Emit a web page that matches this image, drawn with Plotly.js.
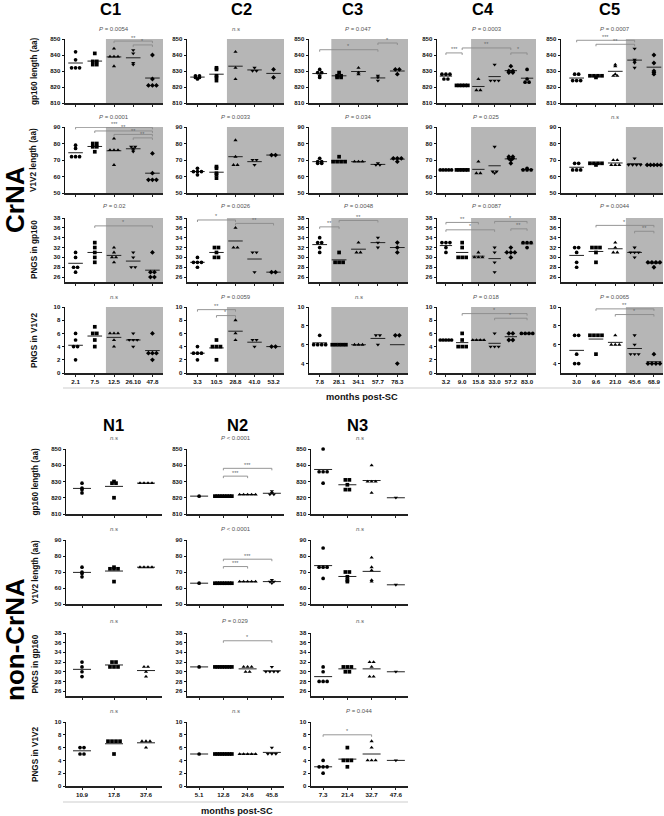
<!DOCTYPE html>
<html><head><meta charset="utf-8">
<script src="https://cdn.plot.ly/plotly-3.0.1.min.js"></script>
<style>body{margin:0;background:#fff}#chart{width:664px;height:816px}</style>
</head><body><div id="chart"></div>
<script>
// ---------- DATA ----------
const colNamesC = ['C1','C2','C3','C4','C5'];
const colNamesN = ['N1','N2','N3'];
const rowTitles = ['gp160 length (aa)','V1V2 length (aa)','PNGS in gp160','PNGS in V1V2'];

const ticksC1 = ['2.1','7.5','12.5','26.10','47.8'];
const ticksC2 = ['3.3','10.5','28.8','41.0','53.2'];
const ticksC3 = ['7.8','28.1','34.1','57.7','78.3'];
const ticksC4 = ['3.2','9.0','15.8','33.0','57.2','83.0'];
const ticksC5 = ['3.0','9.6','21.0','45.6','68.9'];
const ticksN1 = ['10.9','17.8','37.6'];
const ticksN2 = ['5.1','12.8','24.6','45.8'];
const ticksN3 = ['7.3','21.4','32.7','47.6'];

// gp160 length
const c1_gp = [[842,837,832,832,832],[841,836,836,834,834],[844,839,839,839,833],[843,841,835,834],[840,825,821,821,821]];
const c2_gp = [[827,827,826,826,825],[832,831,827,826,824],[842,832,825],[832,830,830],[831,826]];
const c3_gp = [[831,829,829,827,826],[829,827,827,826,826],[832,829,828],[827,826,824],[831,831,828]];
const c4_gp = [[828,828,828,825,825],[821,821,821,821,821],[825,818,818],[834,824,824,824],[833,830,830,829,829],[831,825,823,823]];
const c5_gp = [[828,828,824,824,824],[827,827,827,827,826],[834,833,828,827,827],[844,837,836,835,832],[840,835,830,829,828]];
// V1V2 length
const c1_v = [[79,77,72,72,72],[80,80,78,78,75],[83,76,76,76,67],[78,78,77,76,75],[74,62,58,58,58]];
const c2_v = [[65,63,63,63,61],[66,65,62,61,59],[82,72,67,67],[70,70,67],[73,73]];
const c3_v = [[71,69,69,68,68],[72,69,69,69,69],[69,69,69],[68,67,67],[71,71,71,69]];
const c4_v = [[64,64,64,64,64],[64,64,64,64,64],[69,62,62],[78,63,62,63],[72,72,71,71,70,68],[65,64,64,64]];
const c5_v = [[68,68,64,64,64],[68,68,68,68,67],[70,70,67,67,67],[71,67,67,67,67],[67,67,67,67,67]];
// PNGS in gp160
const c1_pg = [[31,30,28,28,27],[33,32,31,30,29],[32,31,30,30,29],[31,30,28,28],[31,27,27,26,26]];
const c2_pg = [[30,29,29,29,28],[32,32,31,30,30],[36,32,32],[31,31,27],[27,27]];
const c3_pg = [[34,33,33,32,31],[31,29,29,29],[33,31,31],[34,33,32],[33,32,31]];
const c4_pg = [[33,33,33,32,31],[33,32,30,30,30],[31,30,30,30],[32,31,29,27],[32,31,31,31,30],[33,33,33,32]];
const c5_pg = [[32,32,31,29,28],[32,32,32,31,29],[33,32,31,31],[32,31,31,31,30],[29,29,29,29,28]];
// PNGS in V1V2
const c1_pv = [[6,5,4,4,2],[7,6,6,5,4],[6,6,6,5,4],[6,5,5,5,4],[6,3,3,3,2]];
const c2_pv = [[4,3,3,3,2],[5,4,4,4,2],[8,6,5],[5,5,4],[4,4]];
const c3_pv = [[7,6,6,6,6],[6,6,6,6,6],[6,6,6],[7,7,6],[7,7,4]];
const c4_pv = [[5,5,5,5,5],[6,5,4,4,4],[5,5,5,5],[6,4,4,4],[6,6,5,5],[6,6,6,6]];
const c5_pv = [[7,7,5,4,4],[7,7,7,7,5],[7,6,6,6],[7,6,5,5,5],[5,4,4,4,4]];

// non-CrNA
const n1_gp = [[829,826,825,823],[830,829,829,820],[829,829,829,829]];
const n2_gp = [[821],[821,821,821,821,821,821,821,821],[822,822,822,822,822],[824,823,822,822]];
const n3_gp = [[850,836,836,836,829],[831,831,828,825,825],[840,830,830,830,823],[820]];
const n1_v = [[73,70,69,67],[73,72,72,72,64],[73,73,73,73]];
const n2_v = [[63],[63,63,63,63,63,63,63,63],[64,64,64,64,64],[65,64,64,63]];
const n3_v = [[85,73,73,73,66],[70,70,67,65,64],[79,73,71,65,64],[62]];
const n1_pg = [[32,31,30,29],[32,32,31,31,31],[31,31,30,29]];
const n2_pg = [[31],[31,31,31,31,31,31,31,31],[31,31,31,30,30],[31,30,30,30,30]];
const n3_pg = [[31,30,28,28,28],[31,31,31,30,30],[32,32,31,29,29],[30]];
const n1_pv = [[6,6,5,5],[7,7,7,7,5],[7,7,7,6]];
const n2_pv = [[5],[5,5,5,5,5,5,5,5],[5,5,5,5,5],[6,5,5,5]];
const n3_pv = [[4,3,3,3,2],[6,4,4,4,3],[7,6,4,4,4],[4]];

// p values (rows: gp160, V1V2, PNGS gp160, PNGS V1V2)
const pC1 = ['P = 0.0054','P = 0.0001','P = 0.02','n.s'];
const pC2 = ['n.s','P = 0.0033','P = 0.0026','P = 0.0059'];
const pC3 = ['P = 0.047','P = 0.034','P = 0.0048','n.s'];
const pC4 = ['P = 0.0003','P = 0.025','P = 0.0087','P = 0.018'];
const pC5 = ['P = 0.0007','n.s','P = 0.0044','P = 0.0065'];
const pN1 = ['n.s','n.s','n.s','n.s'];
const pN2 = ['P < 0.0001','P < 0.0001','P = 0.029','n.s'];
const pN3 = ['n.s','n.s','n.s','P = 0.044'];

// significance brackets: [fromGroup, toGroup, level, stars]
const brC1 = [[[2,4,848.7,'**'],[3,4,846.3,'*']],[[0,4,89.8,'***'],[1,4,87.6,'**'],[2,4,85.5,'**'],[3,4,83.4,'**']],[[1,4,36.4,'*']],[]];
const brC2 = [[],[],[[0,2,37.6,'*'],[2,4,36.9,'**']],[[0,2,9.6,'**'],[1,2,8.7,'*']]];
const brC3 = [[[0,3,843.3,'*'],[3,4,847.5,'*']],[],[[0,1,36.2,'**'],[1,3,37.5,'**']],[]];
const brC4 = [[[0,1,841.3,'***'],[1,4,844.4,'**'],[4,5,841.3,'*']],[],[[0,2,37.1,'**'],[0,3,35.6,'*'],[3,5,37.3,'*'],[4,5,35.8,'**']],[[1,5,9.0,'*'],[3,5,8.3,'*']]];
const brC5 = [[[0,3,849.2,'***'],[1,3,846.7,'**']],[],[[1,4,36.5,'*'],[3,4,35.3,'**']],[[1,4,9.8,'**'],[2,4,9.2,'*']]];
const brN1 = [[],[],[],[]];
const brN2 = [[[1,2,833.3,'***'],[1,3,838.1,'***']],[[1,2,73.4,'***'],[1,3,78,'***']],[[1,3,36.4,'*']],[]];
const brN3 = [[],[],[],[[0,2,8,'*']]];

// ---------- LAYOUT ----------
const W = 664, H = 816;
const FONT = 'Arial, "Liberation Sans", sans-serif';
const symbols = ['circle','square','triangle-up','triangle-down','diamond','circle'];
const traces = [], shapes = [], annotations = [];
const layout = {
  width: W, height: H, margin: {l:0,r:0,t:0,b:0}, showlegend: false,
  paper_bgcolor: '#fff', plot_bgcolor: 'rgba(0,0,0,0)', font: {family: FONT, color: '#111'},
  hovermode: false
};
let nAx = 0;

function ann(o){ annotations.push(Object.assign({showarrow:false, xanchor:'center', yanchor:'middle'}, o)); }

function addPanel(o){
  nAx++;
  const n = nAx;
  const xa = n===1?'x':'x'+n, ya = n===1?'y':'y'+n;
  const xk = n===1?'xaxis':'xaxis'+n, yk = n===1?'yaxis':'yaxis'+n;
  const [px0,px1] = o.col, [py0,py1] = o.row;
  const ppuX = (px1-px0)/(o.xr[1]-o.xr[0]);
  const ppuY = (py1-py0)/(o.yr[1]-o.yr[0]);
  const nc = o.data.length;
  layout[xk] = {domain:[px0/W, px1/W], range:o.xr, anchor:ya, showgrid:false, zeroline:false,
    showline:true, linecolor:'#222', linewidth:1.5, ticks:'outside', ticklen:2.5, tickwidth:1, tickcolor:'#222',
    tickvals: o.ticks.map((t,i)=>i), ticktext: o.ticks, showticklabels: o.showX,
    tickfont:{size:6.2, family:FONT, weight:'bold', color:'#111'}, fixedrange:true};
  layout[yk] = {domain:[1-py1/H, 1-py0/H], range:o.yr, anchor:xa, showgrid:false, zeroline:false,
    showline:true, linecolor:'#111', linewidth:1, ticks:'outside', ticklen:2.5, tickwidth:1, tickcolor:'#111',
    tickvals:o.yt, tickfont:{size:6, family:FONT, weight:'bold', color:'#111'}, fixedrange:true};
  if (o.shade != null) {
    shapes.push({type:'rect', xref:xa, yref:ya+' domain', x0:o.shade, x1:o.xr[1], y0:0, y1:1,
      fillcolor:'#b6b6b6', line:{width:0}, layer:'below'});
  }
  const xs=[], ys=[], sy=[], mx=[], my=[];
  const hw = Math.min(9, 0.38*ppuX)/ppuX;
  o.data.forEach((g,i)=>{
    const counts = {};
    g.forEach(v=>{counts[v]=(counts[v]||0)+1;});
    Object.keys(counts).forEach(k=>{
      const c = counts[k];
      const dpx = c>1 ? Math.min(4, 0.7*ppuX/(c-1)) : 0;
      for (let j=0;j<c;j++){
        xs.push(i + (j-(c-1)/2)*dpx/ppuX); ys.push(+k); sy.push(symbols[i]);
      }
    });
    const m = g.reduce((a,b)=>a+b,0)/g.length;
    mx.push(i-hw, i+hw, null); my.push(m, m, null);
  });
  traces.push({type:'scatter', mode:'lines', x:mx, y:my, xaxis:xa, yaxis:ya,
    line:{color:'#222', width:1}, hoverinfo:'skip', cliponaxis:false});
  traces.push({type:'scatter', mode:'markers', x:xs, y:ys, xaxis:xa, yaxis:ya,
    marker:{symbol:sy, size:3.7, color:'#000', line:{width:0}}, hoverinfo:'skip', cliponaxis:false});
  // brackets
  const bx=[], by=[];
  const d = 2/ppuY;
  o.br.forEach(b=>{
    bx.push(b[0],b[0],b[1],b[1],null); by.push(b[2]-d,b[2],b[2],b[2]-d,null);
    ann({xref:xa, yref:ya, x:(b[0]+b[1])/2, y:b[2], yanchor:'bottom', yshift:-1.5,
      text:b[3], font:{size:5.5, color:'#666', family:FONT}});
  });
  if (bx.length) traces.push({type:'scatter', mode:'lines', x:bx, y:by, xaxis:xa, yaxis:ya,
    line:{color:'#8a8a8a', width:0.9}, hoverinfo:'skip', cliponaxis:false});
  // p-value
  const esc = o.p.replace(/</g,'&lt;');
  const pt = esc.startsWith('P') ? '<i>P</i>'+esc.slice(1) : '<i>'+esc+'</i>';
  ann({xref:xa, yref:'paper', x:(nc-1)/2, y:1-o.pY/H, text:pt,
    font:{size:6, color:'#555', family:FONT}});
}

// CrNA section
const colsC = [[65,163],[187,284],[309,408],[437,536],[561,663]];
const rowsC = [[39,103],[127,193],[218,282],[307,373]];
const pYC = [29.3,117.3,206,297.3];
const xrC = [[-0.55,4.55],[-0.55,4.55],[-0.55,4.55],[-0.55,5.55],[-0.81,4.47]];
const shadeC = [1.58,1.55,0.6,1.55,2.55];
const dataC = [[c1_gp,c1_v,c1_pg,c1_pv],[c2_gp,c2_v,c2_pg,c2_pv],[c3_gp,c3_v,c3_pg,c3_pv],[c4_gp,c4_v,c4_pg,c4_pv],[c5_gp,c5_v,c5_pg,c5_pv]];
const ticksC = [ticksC1,ticksC2,ticksC3,ticksC4,ticksC5];
const pC = [pC1,pC2,pC3,pC4,pC5];
const brC = [brC1,brC2,brC3,brC4,brC5];
const yrRows = [[810,850],[50,90],[25,38],[0,10]];
const ytRows = [[810,820,830,840,850],[50,60,70,80,90],[26,28,30,32,34,36,38],[0,2,4,6,8,10]];

for (let c=0;c<5;c++){
  for (let r=0;r<4;r++){
    let yr = yrRows[r], yt = ytRows[r];
    if (r===3 && (c===2 || c===4)) { yr=[3,10]; yt=[4,6,8,10]; }
    addPanel({col:colsC[c], row:rowsC[r], xr:xrC[c], yr:yr, yt:yt, data:dataC[c][r],
      ticks:ticksC[c], showX:r===3, shade:shadeC[c], p:pC[c][r], pY:pYC[r], br:brC[c][r]});
  }
}

// non-CrNA section
const colsN = [[66,162],[187,284],[311,408]];
const rowsN = [[449,514],[540,604],[633,696],[722,786]];
const pYN = [437.7,529,620.7,710.7];
const xrN = [[-0.5,2.5],[-0.5,3.5],[-0.5,3.5]];
const dataN = [[n1_gp,n1_v,n1_pg,n1_pv],[n2_gp,n2_v,n2_pg,n2_pv],[n3_gp,n3_v,n3_pg,n3_pv]];
const ticksN = [ticksN1,ticksN2,ticksN3];
const pN = [pN1,pN2,pN3];
const brN = [brN1,brN2,brN3];
for (let c=0;c<3;c++){
  for (let r=0;r<4;r++){
    addPanel({col:colsN[c], row:rowsN[r], xr:xrN[c], yr:yrRows[r], yt:ytRows[r], data:dataN[c][r],
      ticks:ticksN[c], showX:r===3, shade:null, p:pN[c][r], pY:pYN[r], br:brN[c][r]});
  }
}

// column titles
const titleXC = [110,241,352,483,609];
colNamesC.forEach((t,i)=>ann({xref:'paper',yref:'paper',x:titleXC[i]/W,y:1-9/H,text:t,
  font:{size:16.5,family:FONT,weight:'bold',color:'#000'}}));
const titleXN = [113,237,357];
colNamesN.forEach((t,i)=>ann({xref:'paper',yref:'paper',x:titleXN[i]/W,y:1-425/H,text:t,
  font:{size:16.5,family:FONT,weight:'bold',color:'#000'}}));

// row titles
const rowCY = [71,160,250,340], rowNY = [481.5,572,664.5,754];
rowTitles.forEach((t,i)=>{
  ann({xref:'paper',yref:'paper',x:34/W,y:1-rowCY[i]/H,text:t,textangle:-90,
    font:{size:8.2,family:FONT,weight:'bold',color:'#111'}});
  ann({xref:'paper',yref:'paper',x:35/W,y:1-rowNY[i]/H,text:t,textangle:-90,
    font:{size:8.2,family:FONT,weight:'bold',color:'#111'}});
});
// group labels
ann({xref:'paper',yref:'paper',x:15/W,y:1-200/H,text:'CrNA',textangle:-90,
  font:{size:26,family:FONT,weight:'bold',color:'#000'}});
ann({xref:'paper',yref:'paper',x:15/W,y:1-640/H,text:'non-CrNA',textangle:-90,
  font:{size:26,family:FONT,weight:'bold',color:'#000'}});
// x titles and separator lines
ann({xref:'paper',yref:'paper',x:362/W,y:1-397/H,text:'months post-SC',
  font:{size:9.3,family:FONT,weight:'bold',color:'#111'}});
ann({xref:'paper',yref:'paper',x:237/W,y:1-811/H,text:'months post-SC',
  font:{size:9.3,family:FONT,weight:'bold',color:'#111'}});
shapes.push({type:'line',xref:'paper',yref:'paper',x0:63/W,x1:660/W,y0:1-388/H,y1:1-388/H,line:{color:'#dedede',width:1.5}});
shapes.push({type:'line',xref:'paper',yref:'paper',x0:63/W,x1:408/W,y0:1-802/H,y1:1-802/H,line:{color:'#dedede',width:1.5}});

layout.shapes = shapes;
layout.annotations = annotations;
Plotly.newPlot('chart', traces, layout, {staticPlot:true, displayModeBar:false});
</script>
</body></html>
